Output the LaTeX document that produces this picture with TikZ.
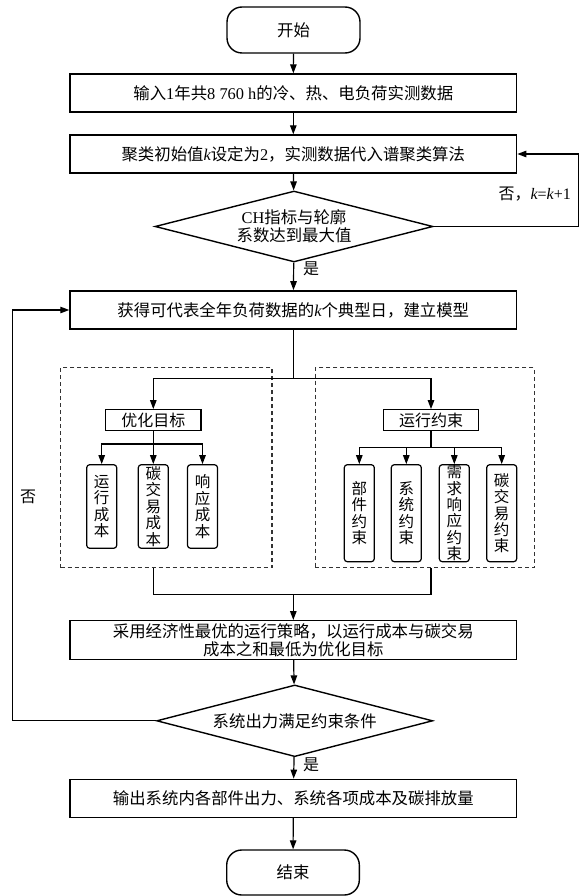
\documentclass[tikz,border=0pt]{standalone}
\usepackage{fontspec}
\setmainfont{Noto Sans CJK SC}
\newfontfamily\lat{Liberation Serif}
\usetikzlibrary{arrows.meta,shapes.geometric}
\newcommand\myk{{\lat\itshape k}}
\tikzset{
  base/.style={draw=black, line width=1.4pt, inner sep=0pt, align=center, font=\fontsize{16.4}{18}\selectfont},
  mainbox/.style={base, minimum width=446.7pt, minimum height=38pt},
  term/.style={base, rounded corners=15pt, minimum width=133pt, minimum height=46pt},
  dec/.style={base, shape=diamond, aspect=3.9},
  smallbox/.style={base, line width=1.2pt, minimum width=95.3pt, minimum height=21pt, font=\fontsize{16}{17}\selectfont},
  vbox/.style={base, line width=1.2pt, rounded corners=3pt, minimum width=30pt, font=\fontsize{15.5}{16.4}\selectfont},
  dashbox/.style={draw=black!80, line width=1.1pt, dash pattern=on 4pt off 3pt},
  arr/.style={draw=black, line width=1.2pt, -{Triangle[length=9pt,width=6.5pt]}},
  ln/.style={draw=black, line width=1.2pt},
  lbl/.style={font=\fontsize{16}{18}\selectfont, inner sep=0pt}
}
\begin{document}
\begin{tikzpicture}[x=1pt,y=-1pt]
\useasboundingbox[fill=white] (0,0) rectangle (586,896);

% main column
\node[term] (start) at (293.5,30) {开始};
\node[mainbox] (b1) at (293.3,93) {输入{\lat 1}年共{\lat 8 760 h}的冷、热、电负荷实测数据};
\node[mainbox] (b2) at (293.3,154) {聚类初始值\myk 设定为{\lat 2}，实测数据代入谱聚类算法};
\node[dec, minimum width=278pt, minimum height=71pt] (d1) at (294,226.5) {{\lat CH}指标与轮廓\\系数达到最大值};
\node[mainbox, minimum height=38.3pt] (b3) at (293.3,310) {获得可代表全年负荷数据的\myk 个典型日，建立模型};

% dashed groups
\node[dashbox, minimum width=211.3pt, minimum height=200pt] (gl) at (166.35,467.7) {};
\node[dashbox, minimum width=219pt, minimum height=200pt] (gr) at (424.8,467.7) {};

\node[smallbox] (goal) at (153.3,420.2) {优化目标};
\node[smallbox] (cons) at (431,420.2) {运行约束};

\node[vbox, minimum height=83.6pt] (v1) at (101.7,506.5) {运\\行\\成\\本};
\node[vbox, minimum height=83.6pt] (v2) at (153.3,506.5) {碳\\交\\易\\成\\本};
\node[vbox, minimum height=83.6pt] (v3) at (202.5,506.5) {响\\应\\成\\本};

\node[vbox, minimum height=97pt] (r1) at (359.3,513.2) {部\\件\\约\\束};
\node[vbox, minimum height=97pt] (r2) at (406.3,513.2) {系\\统\\约\\束};
\node[vbox, minimum height=97pt] (r3) at (454.3,513.2) {需\\求\\响\\应\\约\\束};
\node[vbox, minimum height=97pt] (r4) at (501.7,513.2) {碳\\交\\易\\约\\束};

\node[mainbox, minimum height=38.6pt] (b4) at (293.3,640) {采用经济性最优的运行策略，以运行成本与碳交易\\成本之和最低为优化目标};
\node[dec, minimum width=276pt, minimum height=71.7pt] (d2) at (294.7,720.8) {系统出力满足约束条件};
\node[mainbox] (b5) at (293.3,798.3) {输出系统内各部件出力、系统各项成本及碳排放量};
\node[term, minimum width=132.6pt, minimum height=45pt] (end) at (293,872.5) {结束};

% coordinates
\coordinate (rt) at (578.3,226.5);
\coordinate (jt) at (293.3,378.3);
\coordinate (gj) at (153.3,444);
\coordinate (cj) at (431,447.3);
\coordinate (mj) at (293.3,594.3);
\coordinate (lt) at (12.7,720.8);

% connectors
\draw[arr] (start) -- (b1);
\draw[arr] (b1) -- (b2);
\draw[arr] (b2) -- (d1);
\draw[arr] (d1) -- (b3);
\draw[arr] (d1.east) -- (rt) |- (b2.east);
\draw[ln] (b3.south) -- (jt);
\draw[arr] (jt) -| (goal.north);
\draw[arr] (jt) -| (cons.north);
\draw[ln] (goal.south) -- (gj);
\draw[arr] (gj) -| (v1.north);
\draw[arr] (gj) -- (v2.north);
\draw[arr] (gj) -| (v3.north);
\draw[ln] (cons.south) -- (cj);
\draw[arr] (cj) -| (r1.north);
\draw[arr] (cj) -| (r2.north);
\draw[arr] (cj) -| (r3.north);
\draw[arr] (cj) -| (r4.north);
\draw[ln] (gl.south -| goal.south) |- (mj) -| (gr.south -| cons.south);
\draw[arr] (mj) -- (b4.north);
\draw[arr] (b4) -- (d2);
\draw[arr] (d2) -- (b5);
\draw[arr] (b5) -- (end);
\draw[arr] (d2.west) -- (lt) |- (b3.west);

% labels
\node[lbl, anchor=east] (lk) at (571,194) {否，\myk{\lat =}\myk{\lat +1}};
\node[lbl] (ly1) at (311,269) {是};
\node[lbl] (ly2) at (311,765) {是};
\node[lbl] (ln1) at (28,497) {否};
\end{tikzpicture}
\end{document}
